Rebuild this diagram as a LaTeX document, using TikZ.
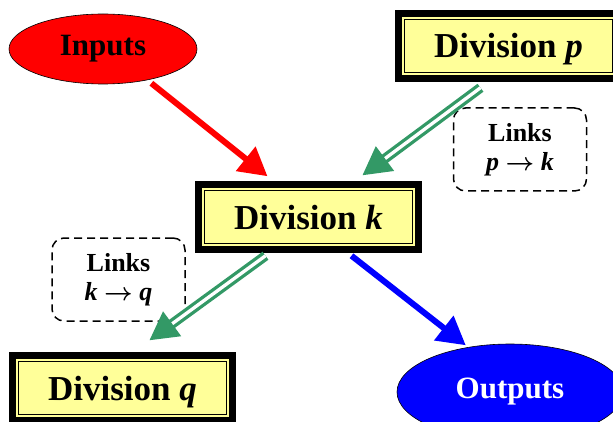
\documentclass[tikz,border=0pt]{standalone}
\usepackage{amsmath}
\usepackage{fontspec}
\setmainfont{Liberation Serif}
\usetikzlibrary{shapes.geometric, arrows.meta}

\definecolor{boxyellow}{RGB}{255,255,153}
\definecolor{linkgreen}{RGB}{51,153,102}

\newcommand{\linkto}{\ $\boldsymbol{\rightarrow}$\ }

\begin{document}
\begin{tikzpicture}[x=1pt, y=1pt,
    division/.style={draw=black, line width=6.5pt, fill=boxyellow,
      minimum width=220pt, minimum height=65pt, inner sep=0pt,
      text height=24pt, text depth=0pt,
      font=\fontsize{35}{40}\selectfont\bfseries,
      path picture={\draw[line width=1.5pt]
        ([xshift=6pt,yshift=-6pt]path picture bounding box.north west) rectangle
        ([xshift=-6pt,yshift=6pt]path picture bounding box.south east);}},
    blob/.style={ellipse, draw=black, line width=0.6pt, inner sep=0pt,
      font=\fontsize{31}{36}\selectfont\bfseries},
    linkbox/.style={draw=black, line width=1.5pt, dash pattern=on 8pt off 5pt,
      rounded corners=12pt, minimum width=133pt, minimum height=83pt,
      align=center, font=\fontsize{26}{29}\selectfont\bfseries},
    flow/.style={line width=6pt, -{Triangle[length=28pt,width=30pt]}},
    linkarrow/.style={draw=linkgreen, line width=3.3pt, double=white,
      double distance=3.3pt, -{Triangle[length=28pt,width=30pt]}}]

  % --- Cadre ---
  \useasboundingbox (0,0) rectangle (613,421);
  \clip (0,0) rectangle (613,421);

  % --- Entrees / sorties ---
  \node[blob, fill=red, minimum width=188pt, minimum height=70pt]
    (inputs) at (103,372) {Inputs};
  \node[blob, fill=blue, text=white, minimum width=226pt, minimum height=96pt]
    (outputs) at (510,29) {Outputs};

  % --- Divisions ---
  \node[division] (divk) at (308.5,204) {Division \textit{k}};
  \node[division] (divp) at (508.5,375) {Division \textit{p}};
  \node[division] (divq) at (122.5,33)  {Division \textit{q}};

  % --- Liens ---
  \node[linkbox] (linkpk) at (520,271.5)  {Links\\\textit{p}\linkto\textit{k}};
  \node[linkbox] (linkkq) at (118.5,141.5) {Links\\\textit{k}\linkto\textit{q}};

  % --- Fleches ---
  \draw[flow, red, shorten <=5pt] (inputs.-35) -- ([xshift=-41pt,yshift=5pt]divk.north);
  \draw[linkarrow] ([xshift=-28pt,yshift=-6pt]divp.south) -- ([xshift=54pt,yshift=6pt]divk.north);
  \draw[linkarrow] ([xshift=-43pt,yshift=-3pt]divk.south) -- ([xshift=27pt,yshift=12pt]divq.north);
  \draw[flow, blue, shorten >=3pt] ([xshift=43pt,yshift=-3pt]divk.south) -- (outputs.133);

\end{tikzpicture}
\end{document}
